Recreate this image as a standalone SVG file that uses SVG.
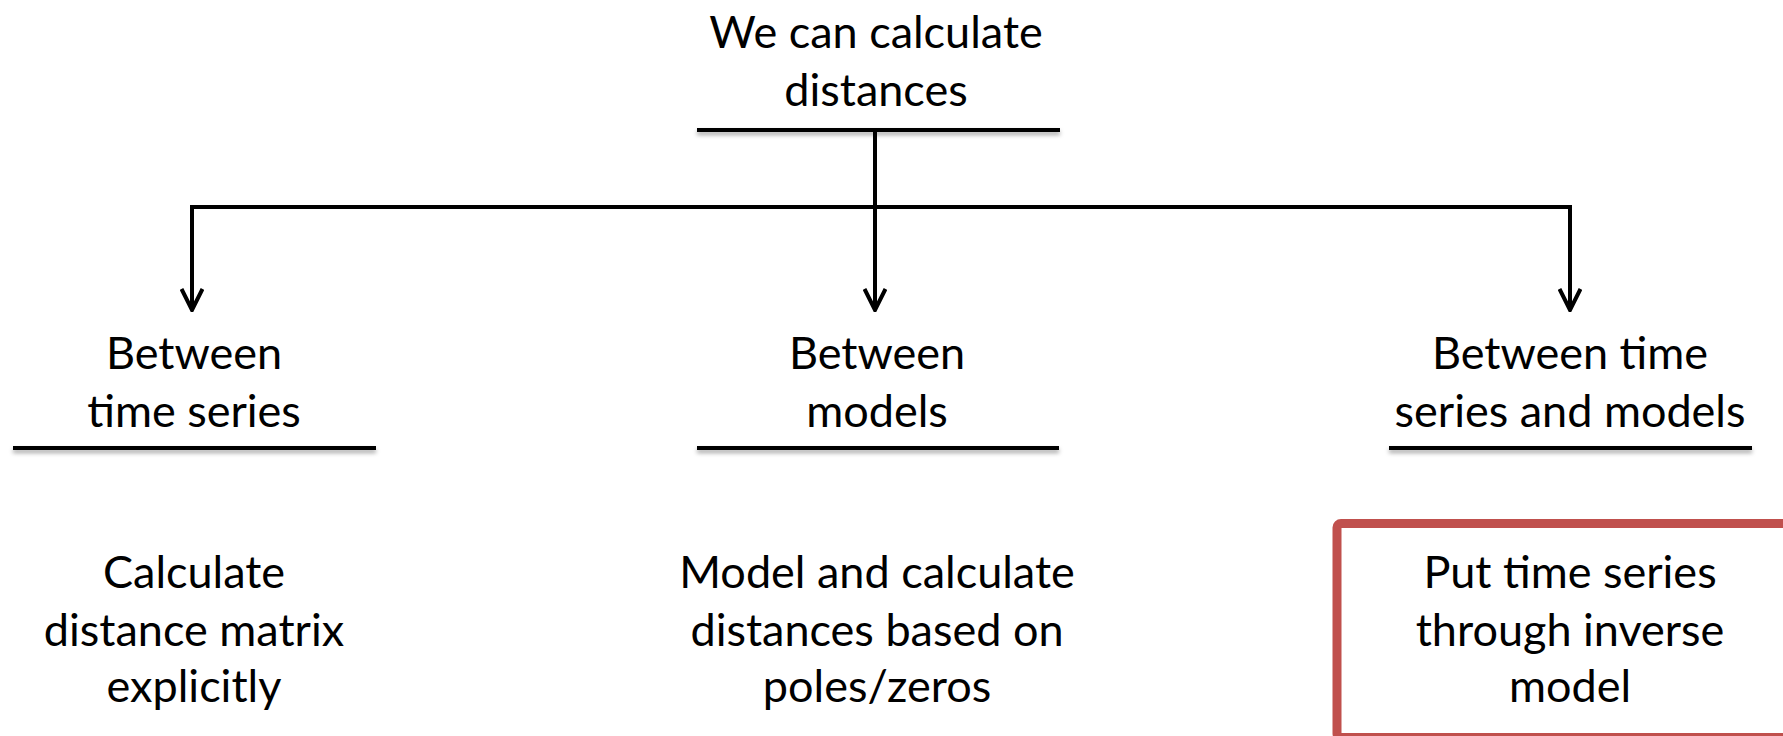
<svg xmlns="http://www.w3.org/2000/svg" width="1783" height="736" viewBox="0 0 1783 736">
  <style>
    .t { font-family: Lato, "Open Sans", "Liberation Sans", sans-serif; font-size: 45px; fill: #000; text-anchor: middle; }
    .ul { stroke: #000; stroke-width: 4; fill: none; filter: url(#sh); }
    .cn { stroke: #000; stroke-width: 4; fill: none; }
  </style>
  <defs>
    <filter id="sh" filterUnits="userSpaceOnUse" x="0" y="0" width="1783" height="736">
      <feDropShadow dx="0" dy="3" stdDeviation="2" flood-color="#000" flood-opacity="0.35"/>
    </filter>
    <marker id="ah" viewBox="0 0 24 24" refX="22" refY="12" markerWidth="24" markerHeight="24" markerUnits="userSpaceOnUse" orient="auto-start-reverse">
      <path d="M1 1.5 L22 12 L1 22.5" fill="none" stroke="#000" stroke-width="4"/>
    </marker>
  </defs>
  <rect width="1783" height="736" fill="#fff"/>

  <g id="connectors">
    <line class="cn" x1="875" y1="130" x2="875" y2="310" marker-end="url(#ah)"/>
    <polyline class="cn" points="192,310 192,207 1570,207 1570,310" marker-start="url(#ah)" marker-end="url(#ah)"/>
  </g>

  <g id="root">
    <text class="t" x="876" y="48">We can calculate</text>
    <text class="t" x="876" y="106">distances</text>
    <line class="ul" x1="697" y1="130" x2="1060" y2="130"/>
  </g>

  <g id="between-time-series">
    <text class="t" x="194" y="369">Between</text>
    <text class="t" x="194" y="427">time series</text>
    <line class="ul" x1="13" y1="448" x2="376" y2="448"/>
  </g>

  <g id="between-models">
    <text class="t" x="877" y="369">Between</text>
    <text class="t" x="877" y="427">models</text>
    <line class="ul" x1="697" y1="448" x2="1059" y2="448"/>
  </g>

  <g id="between-ts-models">
    <text class="t" x="1570" y="369">Between time</text>
    <text class="t" x="1570" y="427">series and models</text>
    <line class="ul" x1="1389" y1="448" x2="1752" y2="448"/>
  </g>

  <g id="distance-matrix">
    <text class="t" x="194" y="588">Calculate</text>
    <text class="t" x="194" y="646">distance matrix</text>
    <text class="t" x="194" y="702">explicitly</text>
  </g>

  <g id="poles-zeros">
    <text class="t" x="877" y="588">Model and calculate</text>
    <text class="t" x="877" y="646">distances based on</text>
    <text class="t" x="877" y="702">poles/zeros</text>
  </g>

  <g id="inverse-model">
    <rect x="1337" y="523.5" width="460" height="214" rx="4" fill="none" stroke="#C0504D" stroke-width="9"/>
    <text class="t" x="1570" y="588">Put time series</text>
    <text class="t" x="1570" y="646">through inverse</text>
    <text class="t" x="1570" y="702">model</text>
  </g>
</svg>
